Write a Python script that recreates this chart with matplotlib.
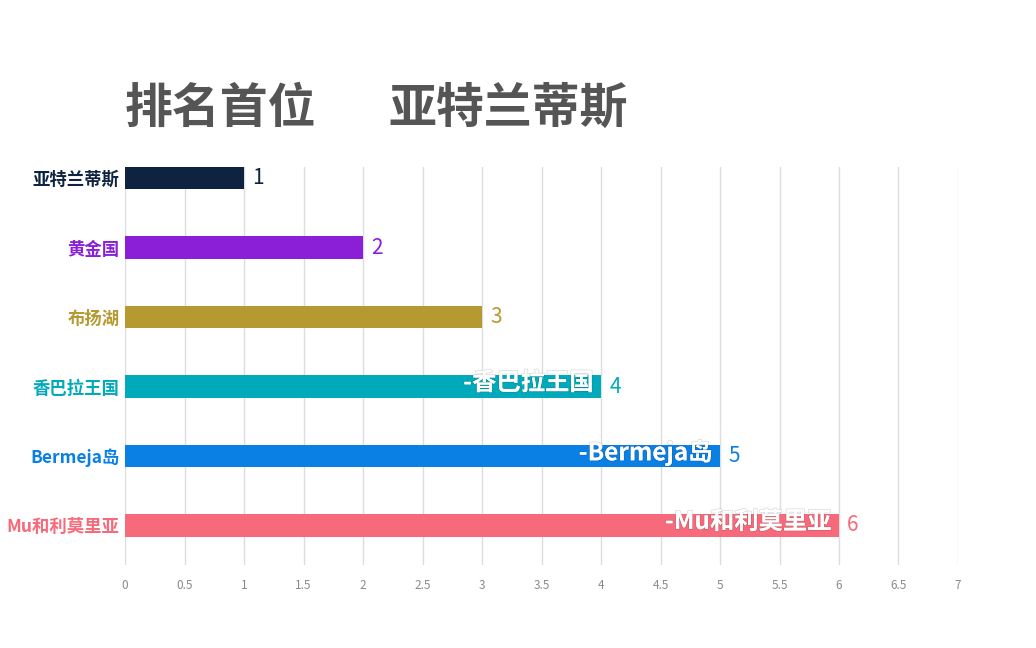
import matplotlib.pyplot as plt
import matplotlib.patheffects as pe

plt.rcParams['font.family'] = ['Noto Sans CJK SC', 'DejaVu Sans']

# chart data
names = ['亚特兰蒂斯', '黄金国', '布扬湖', '香巴拉王国', 'Bermeja岛', 'Mu和利莫里亚']
values = [1, 2, 3, 4, 5, 6]
colors = ['#0e2340', '#8b1fd8', '#b59a31', '#00aabb', '#0a7fe4', '#f76a7b']
show_inner = [False, False, False, True, True, True]
xticks = [0, 0.5, 1, 1.5, 2, 2.5, 3, 3.5, 4, 4.5, 5, 5.5, 6, 6.5, 7]
title_left = '排名首位'
title_right = '亚特兰蒂斯'

fig = plt.figure(figsize=(10.36, 6.48), dpi=100)
ax = fig.add_axes([0.1207, 0.128, 0.804, 0.6143])

ypos = list(range(len(names)))
ax.barh(ypos, values, height=0.32, color=colors, zorder=3)

ax.set_xlim(0, 7)
ax.set_ylim(5.57, -0.16)
ax.set_xticks(xticks)
ax.set_xticklabels([('%g' % t) for t in xticks], color='#8a8a8a', fontsize=8.5)
ax.tick_params(axis='x', length=0, pad=10)
ax.xaxis.grid(True, color='#dddddd', linewidth=1, zorder=0)
ax.set_yticks(ypos)
ax.set_yticklabels(names, fontsize=12.5, fontweight='bold')
for lbl, c in zip(ax.get_yticklabels(), colors):
    lbl.set_color(c)
ax.tick_params(axis='y', length=0, pad=4)
for s in ax.spines.values():
    s.set_visible(False)

for y, v, c, name, inner in zip(ypos, values, colors, names, show_inner):
    ax.annotate(str(v), (v, y), xytext=(6, 0), textcoords='offset points',
                va='center', ha='left', color=c, fontsize=15)
    if inner:
        t = ax.annotate('-' + name, (v, y), xytext=(-5.5, 2.5), textcoords='offset points',
                        va='center', ha='right', color='white', fontsize=17.5,
                        fontweight='bold')
        t.set_path_effects([pe.withStroke(linewidth=1.0, foreground='#00000026')])

fig.text(0.1207, 0.833, title_left, fontsize=34.5, fontweight='bold',
         color='#555555', va='center', ha='left')
fig.text(0.375, 0.833, title_right, fontsize=34.5, fontweight='bold',
         color='#555555', va='center', ha='left')

fig.savefig('out.png', dpi=100, facecolor='white')
